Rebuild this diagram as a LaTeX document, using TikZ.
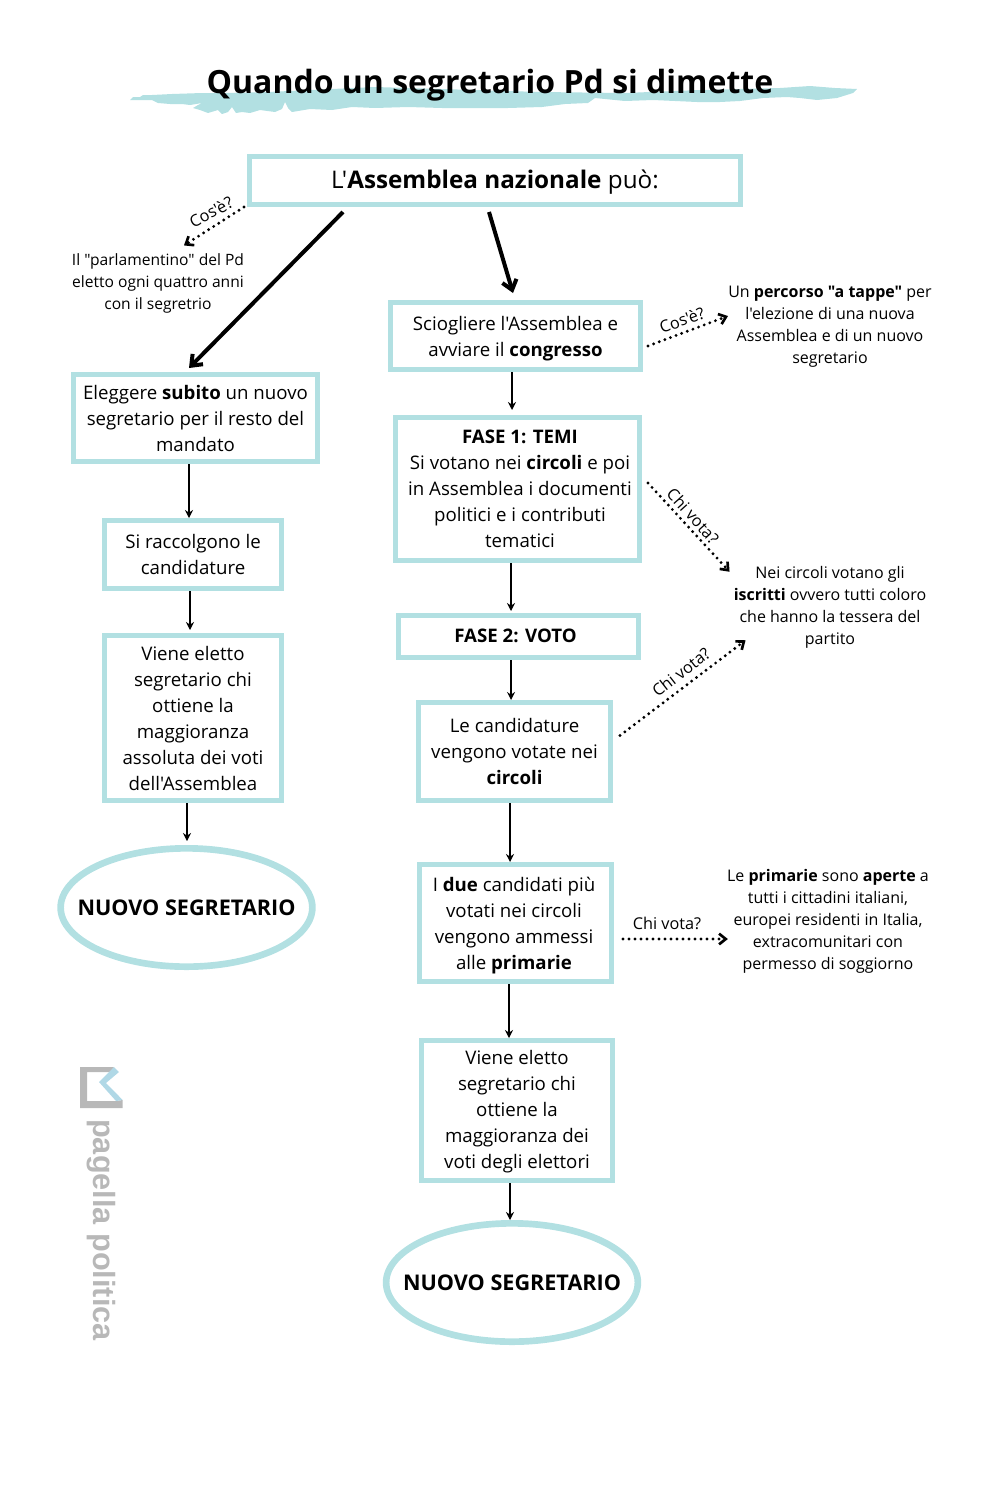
\documentclass[tikz,border=0pt]{standalone}
\usepackage{fontspec}
\setmainfont[Ligatures=TeXOff]{Open Sans}
\newfontfamily\logofont{Liberation Sans}
\usetikzlibrary{arrows.meta,shapes.geometric}
\definecolor{brushteal}{HTML}{B2E0E2}
\definecolor{logogray}{HTML}{B8B8B8}
\definecolor{logoblue}{HTML}{B0D8E6}
\tikzset{
  flowbox/.style 2 args={draw=brushteal,line width=3.75pt,align=center,inner sep=0pt,
    minimum width=#1*0.75pt-3.75pt,minimum height=#2*0.75pt-3.75pt},
  flowtext/.style={align=center,inner sep=0pt},
  endbox/.style 2 args={ellipse,draw=brushteal,line width=5pt,inner xsep=-15pt,inner ysep=0pt,font=\fontsize{16.2}{20}\selectfont\bfseries,
    minimum width=#1*0.75pt-5pt,minimum height=#2*0.75pt-5pt},
  note/.style={align=center,inner sep=0pt,font=\fontsize{12}{16.5}\selectfont},
  asklabel/.style={inner sep=0pt,font=\fontsize{12.2}{14}\selectfont},
  thinarrow/.style={-{Stealth[length=6pt,width=6pt]},line width=1.2pt},
  thickarrow/.style={-{Straight Barb[length=7pt,width=11pt]},line width=3pt},
  dotarrow/.style={-{Straight Barb[length=5pt,width=8pt,line width=2pt]},line width=2.4pt,line cap=round,dash pattern=on 0pt off 4.5pt}
}
\begin{document}
\begin{tikzpicture}[x=0.75pt,y=-0.75pt,font=\fontsize{14}{19.5}\selectfont]
\useasboundingbox (0,0) rectangle (1000,1500);

\fill[brushteal] (130,100) -- (133,97) -- (140,97) -- (143,95) -- (152,95) -- (172,94) -- (202,93) -- (225,93)
  -- (268,92) -- (375,87) -- (540,92) -- (625,93) -- (700,90) -- (780,88) -- (810,86) -- (835,88) -- (857,89)
  -- (853,93) -- (837,98) -- (817,100) -- (800,98) -- (787,97) -- (763,98) -- (740,101) -- (720,102) -- (697,102)
  -- (653,100) -- (625,101) -- (595,98) -- (588,103) -- (565,104) -- (542,107) -- (508,108) -- (442,108) -- (408,107)
  -- (375,108) -- (352,107) -- (332,110) -- (310,109) -- (292,112) -- (288,108) -- (285,102) -- (282,109) -- (275,112) -- (260,110)
  -- (250,113) -- (242,112) -- (236,113) -- (232,107) -- (228,112) -- (222,114) -- (218,110) -- (208,113) -- (200,110) -- (193,108) -- (198,105) -- (202,103) -- (190,105) -- (182,104) -- (170,104) -- (158,103) -- (152,100)
  -- (142,100) -- cycle;
\node (title) at (490,85) {\fontsize{24}{28}\selectfont\bfseries Quando un segretario Pd si dimette};

\node[flowbox={496}{53}] (top) at (495,180.5) {};
\node[flowtext] (toptext) at (495,182.5) {\fontsize{18.2}{22}\selectfont L'\textbf{Assemblea nazionale} può:};

\node[flowbox={249}{92}] (eleggere) at (195.5,418) {Eleggere \textbf{subito} un nuovo\\segretario per il resto del\\mandato};
\node[flowbox={182}{73}] (candidature) at (193,554.5) {Si raccolgono le\\candidature};
\node[flowbox={182}{170}] (elettoass) at (193,718) {Viene eletto\\segretario chi\\ottiene la\\maggioranza\\assoluta dei voti\\dell'Assemblea};
\node[endbox={257}{125}] (nuovoa) at (186.5,907.5) {NUOVO SEGRETARIO};

\node[flowbox={255}{72}] (sciogliere) at (515.5,336) {};
\node[flowtext] (scioglieretext) at (515.5,339) {Sciogliere l'Assemblea e\\avviare il \textbf{congresso}};
\node[flowbox={249}{148}] (fase1) at (517.5,489) {};
\node[flowtext] (fase1text) at (520,489) {\textbf{FASE 1: TEMI}\\Si votano nei \textbf{circoli} e poi\\in Assemblea i documenti\\politici e i contributi\\tematici};
\node[flowbox={245}{47}] (fase2) at (518.5,636.5) {};
\node[flowtext] (fase2text) at (515.5,636) {\textbf{FASE 2: VOTO}};
\node[flowbox={197}{103}] (votate) at (514.5,751.5) {Le candidature\\vengono votate nei\\\textbf{circoli}};
\node[flowbox={197}{122}] (ammessi) at (515.5,923) {};
\node[flowtext] (ammessitext) at (514,926) {I \textbf{due} candidati più\\votati nei circoli\\vengono ammessi\\alle \textbf{primarie}};
\node[flowbox={196}{145}] (elettomag) at (517,1110.5) {};
\node[flowtext] (elettomagtext) at (517,1111.5) {Viene eletto\\segretario chi\\ottiene la\\maggioranza dei\\voti degli elettori};
\node[endbox={257}{125}] (nuovob) at (512,1282.5) {NUOVO SEGRETARIO};

\node[note,font=\fontsize{11.7}{16.5}\selectfont] (parlamentino) at (158,283.5) {Il "parlamentino" del Pd\\eletto ogni quattro anni\\con il segretrio};
\node[note] (percorso) at (830,327) {Un \textbf{percorso "a tappe"} per\\l'elezione di una nuova\\Assemblea e di un nuovo\\segretario};
\node[note] (iscritti) at (830,607) {Nei circoli votano gli\\\textbf{iscritti} ovvero tutti coloro\\che hanno la tessera del\\partito};
\node[note] (primarie) at (828,921) {Le \textbf{primarie} sono \textbf{aperte} a\\tutti i cittadini italiani,\\europei residenti in Italia,\\extracomunitari con\\permesso di soggiorno};

\node[asklabel,rotate=28] (askleft) at (211,212) {Cos'è?};
\node[asklabel,rotate=20] (askright) at (682,320) {Cos'è?};
\node[asklabel,rotate=-48] (askfase) at (693,516) {Chi vota?};
\node[asklabel,rotate=38] (askvotate) at (681,672) {Chi vota?};
\node[asklabel] (askdue) at (667,923) {Chi vota?};

\draw[thickarrow] ([shift={(-152,5)}]top.south) -- ([shift={(-6.5,-4)}]eleggere.north);
\draw[thickarrow] ([shift={(-6,5)}]top.south) -- ([shift={(-2.5,-7)}]sciogliere.north);

\draw[thinarrow] ([xshift=-4.9pt]eleggere.south) -- ([xshift=-3pt]candidature.north);
\draw[thinarrow] ([xshift=-2.25pt]candidature.south) -- ([shift={(-3,-3)}]elettoass.north);
\draw[thinarrow] ([xshift=-4.5pt]elettoass.south) -- ([shift={(0.5,-4)}]nuovoa.north);

\draw[thinarrow] ([xshift=-2.6pt]sciogliere.south) -- ([shift={(-5.5,-5)}]fase1.north);
\draw[thinarrow] ([xshift=-4.9pt]fase1.south) -- ([shift={(-7.5,-2)}]fase2.north);
\draw[thinarrow] ([xshift=-5.6pt]fase2.south) -- ([xshift=-2.6pt]votate.north);
\draw[thinarrow] ([xshift=-3.4pt]votate.south) -- ([xshift=-4.1pt]ammessi.north);
\draw[thinarrow] ([xshift=-4.9pt]ammessi.south) -- ([xshift=-6pt]elettomag.north);
\draw[thinarrow] ([xshift=-5.25pt]elettomag.south) -- ([xshift=-1.5pt]nuovob.north);

\draw[dotarrow] ([xshift=-2.25pt]top.south west) -- ([shift={(26,-8)}]parlamentino.north);
\draw[dotarrow] ([shift={(5,10)}]sciogliere.east) -- ([shift={(0,-11)}]percorso.west);
\draw[dotarrow] ([shift={(6,-6)}]fase1.east) -- ([shift={(-4,6)}]iscritti.north west);
\draw[dotarrow] ([shift={(7,-16)}]votate.east) -- ([shift={(12,-8)}]iscritti.south west);
\draw[dotarrow] ([shift={(9,16)}]ammessi.east) -- ([shift={(1,18)}]primarie.west);

\fill[logogray] (80,1067) -- (114,1067) -- (110,1072) -- (87,1072) -- (87,1101) -- (116,1101) -- (122.7,1100) -- (122.7,1108) -- (80,1108) -- cycle;
\fill[logoblue] (114,1067) -- (119,1072) -- (106,1083) -- (122.7,1100) -- (116,1101) -- (99,1082) -- cycle;
\node[logogray,rotate=-90,inner sep=0pt] (logotext) at (101,1230) {\fontsize{23}{25}\selectfont\logofont\bfseries pagella politica};
\end{tikzpicture}
\end{document}
